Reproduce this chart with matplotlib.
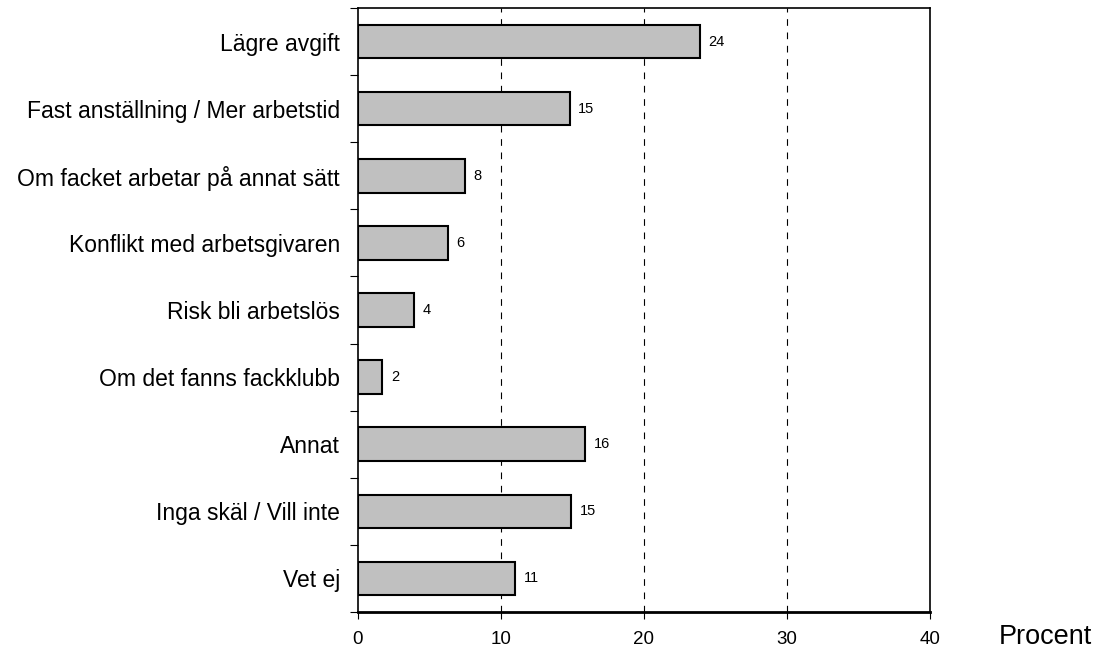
import matplotlib
matplotlib.use('Agg')
import matplotlib.pyplot as plt

plt.rcParams['font.family'] = ['Liberation Sans', 'DejaVu Sans']

categories = ['Lägre avgift', 'Fast anställning / Mer arbetstid',
              'Om facket arbetar på annat sätt', 'Konflikt med arbetsgivaren',
              'Risk bli arbetslös', 'Om det fanns fackklubb', 'Annat',
              'Inga skäl / Vill inte', 'Vet ej']
values = [23.9, 14.8, 7.5, 6.3, 3.9, 1.7, 15.9, 14.9, 11.0]
labels = ['24', '15', '8', '6', '4', '2', '16', '15', '11']
xticks = [0, 10, 20, 30, 40]

fig = plt.figure(figsize=(11.1, 6.68), dpi=100)
ax = fig.add_axes([0.3225, 0.0838, 0.5153, 0.9042])

ypos = list(range(len(categories)))
ax.barh(ypos, values, height=0.5, color='#c0c0c0', edgecolor='black',
        linewidth=1.5, zorder=3)
for y, v, lab in zip(ypos, values, labels):
    ax.text(v + 0.6, y, lab, va='center', ha='left', fontsize=10.5, zorder=4)

ax.set_xlim(0, 40)
ax.set_ylim(len(categories) - 0.5, -0.5)
ax.set_xticks(xticks)
ax.set_xticklabels([str(t) for t in xticks], fontsize=13.5)
ax.tick_params(axis='x', direction='out', length=5, pad=9)

# category labels centred, ticks on the boundaries
ax.set_yticks([i - 0.5 for i in range(len(categories) + 1)])
ax.set_yticklabels([])
ax.set_yticks(ypos, minor=True)
ax.set_yticklabels(categories, minor=True, fontsize=16.5)
ax.tick_params(axis='y', which='minor', length=0, pad=13)
ax.tick_params(axis='y', which='major', direction='out', length=6)

for x in xticks[1:-1]:
    ax.axvline(x, color='black', linestyle=(0, (6, 6)), linewidth=0.8, zorder=1)

for s in ['top', 'right', 'left']:
    ax.spines[s].set_linewidth(1.2)
ax.spines['bottom'].set_linewidth(2)

fig.text(0.9, 0.046, 'Procent', fontsize=19.5, ha='left', va='center')

plt.savefig('out.png', dpi=100)
